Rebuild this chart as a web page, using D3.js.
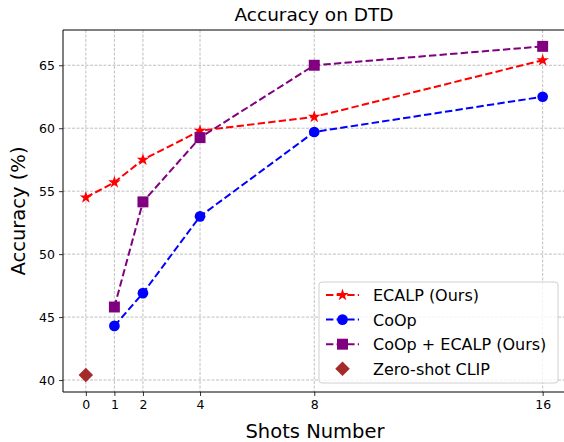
<!DOCTYPE html>
<html>
<head>
<meta charset="utf-8">
<script src="https://d3js.org/d3.v7.min.js"></script>
<style>
  body { margin: 0; background: #fff; }
  svg { font-family: "DejaVu Sans", sans-serif; display: block; }
</style>
</head>
<body>
<svg width="564" height="442"></svg>
<script>
// data
var shots = [0, 1, 2, 4, 8, 16];
var ecalp = [54.5, 55.7, 57.5, 59.8, 60.9, 65.4];
var coopShots = [1, 2, 4, 8, 16];
var coop = [44.3, 46.9, 53.0, 59.7, 62.5];
var coopEcalp = [45.8, 54.15, 59.25, 65.0, 66.5];
var zeroShot = [[0, 40.4]];
var yTicks = [40, 45, 50, 55, 60, 65];

var series = [
  {name: "ECALP (Ours)", xs: shots, ys: ecalp, color: "red", marker: "star"},
  {name: "CoOp", xs: coopShots, ys: coop, color: "blue", marker: "circle"},
  {name: "CoOp + ECALP (Ours)", xs: coopShots, ys: coopEcalp, color: "purple", marker: "square"}
];

var svg = d3.select("svg");
var plotLeft = 63, plotTop = 30, plotBottom = 392;

var x = d3.scaleLinear().domain([-0.8, 16.8]).range([plotLeft, 565.5]);
var y = d3.scaleLinear().domain([39.05, 67.8]).range([plotBottom, plotTop]);

// grid
var grid = svg.append("g").attr("stroke", "#b0b0b0").attr("stroke-width", 0.8)
  .attr("stroke-dasharray", "3,1.5");
shots.forEach(function(s) {
  grid.append("line").attr("x1", x(s)).attr("x2", x(s)).attr("y1", plotTop).attr("y2", plotBottom);
});
yTicks.forEach(function(t) {
  grid.append("line").attr("x1", plotLeft).attr("x2", 564).attr("y1", y(t)).attr("y2", y(t));
});

function symbolFor(m) {
  if (m == "star") return d3.symbol().type(d3.symbolStar).size(48);
  if (m == "circle") return d3.symbol().type(d3.symbolCircle).size(90);
  if (m == "square") return d3.symbol().type(d3.symbolSquare).size(120);
  return d3.symbol().type(d3.symbolSquare).size(105);
}

var line = d3.line().x(function(d) { return x(d[0]); }).y(function(d) { return y(d[1]); });

series.forEach(function(s) {
  var pts = s.xs.map(function(v, i) { return [v, s.ys[i]]; });
  svg.append("path").datum(pts)
    .attr("d", line)
    .attr("fill", "none")
    .attr("stroke", s.color)
    .attr("stroke-width", 2)
    .attr("stroke-dasharray", "7.4,3.2");
  svg.append("g").selectAll("path").data(pts).enter().append("path")
    .attr("transform", function(d) { return "translate(" + x(d[0]) + "," + y(d[1]) + ")"; })
    .attr("d", symbolFor(s.marker)())
    .attr("fill", s.color);
});

// zero-shot diamond
svg.append("g").selectAll("path").data(zeroShot).enter().append("path")
  .attr("d", symbolFor("diamond")())
  .attr("transform", function(d) { return "translate(" + x(d[0]) + "," + y(d[1]) + ") rotate(45)"; })
  .attr("fill", "#a52a2a");

// axes
var xAxis = svg.append("g").attr("transform", "translate(0," + plotBottom + ")")
  .call(d3.axisBottom(x).tickValues(shots).tickSize(4).tickPadding(4).tickFormat(d3.format("d")));
var yAxis = svg.append("g").attr("transform", "translate(" + plotLeft + ",0)")
  .call(d3.axisLeft(y).tickValues(yTicks).tickSize(4).tickPadding(4));
[xAxis, yAxis].forEach(function(a) {
  a.select(".domain").remove();
  a.selectAll("text").attr("font-size", 12.5).attr("font-family", "DejaVu Sans").attr("fill", "#000");
  a.selectAll("line").attr("stroke", "#000").attr("stroke-width", 0.8);
});

// frame
var frame = svg.append("g").attr("stroke", "#000").attr("stroke-width", 1);
frame.append("line").attr("x1", plotLeft).attr("x2", 564).attr("y1", plotBottom).attr("y2", plotBottom);
frame.append("line").attr("x1", plotLeft).attr("x2", 564).attr("y1", plotTop).attr("y2", plotTop);
frame.append("line").attr("x1", plotLeft).attr("x2", plotLeft).attr("y1", plotTop).attr("y2", plotBottom);

// labels
svg.append("text").attr("x", 314).attr("y", 21).attr("text-anchor", "middle")
  .attr("font-size", 18.5).text("Accuracy on DTD");
svg.append("text").attr("x", 315).attr("y", 438).attr("text-anchor", "middle")
  .attr("font-size", 19.5).text("Shots Number");
svg.append("text").attr("transform", "translate(25,211) rotate(-90)").attr("text-anchor", "middle")
  .attr("font-size", 19.5).text("Accuracy (%)");

// legend
var lg = svg.append("g");
lg.append("rect").attr("x", 319).attr("y", 282).attr("width", 239).attr("height", 101)
  .attr("rx", 3).attr("fill", "#fff").attr("fill-opacity", 0.8)
  .attr("stroke", "#d0d0d0").attr("stroke-width", 1);
var items = series.concat([{name: "Zero-shot CLIP", color: "#a52a2a", marker: "diamond"}]);
items.forEach(function(s, i) {
  var ly = 295 + i * 24.6;
  if (s.marker != "diamond") {
    lg.append("line").attr("x1", 326).attr("x2", 359).attr("y1", ly).attr("y2", ly)
      .attr("stroke", s.color).attr("stroke-width", 2).attr("stroke-dasharray", "7.4,3.2");
  }
  lg.append("path").attr("d", symbolFor(s.marker)())
    .attr("transform", "translate(342.5," + ly + ")" + (s.marker == "diamond" ? " rotate(45)" : ""))
    .attr("fill", s.color);
  lg.append("text").attr("x", 373).attr("y", ly + 6).attr("font-size", 16).text(s.name);
});
</script>
</body>
</html>
